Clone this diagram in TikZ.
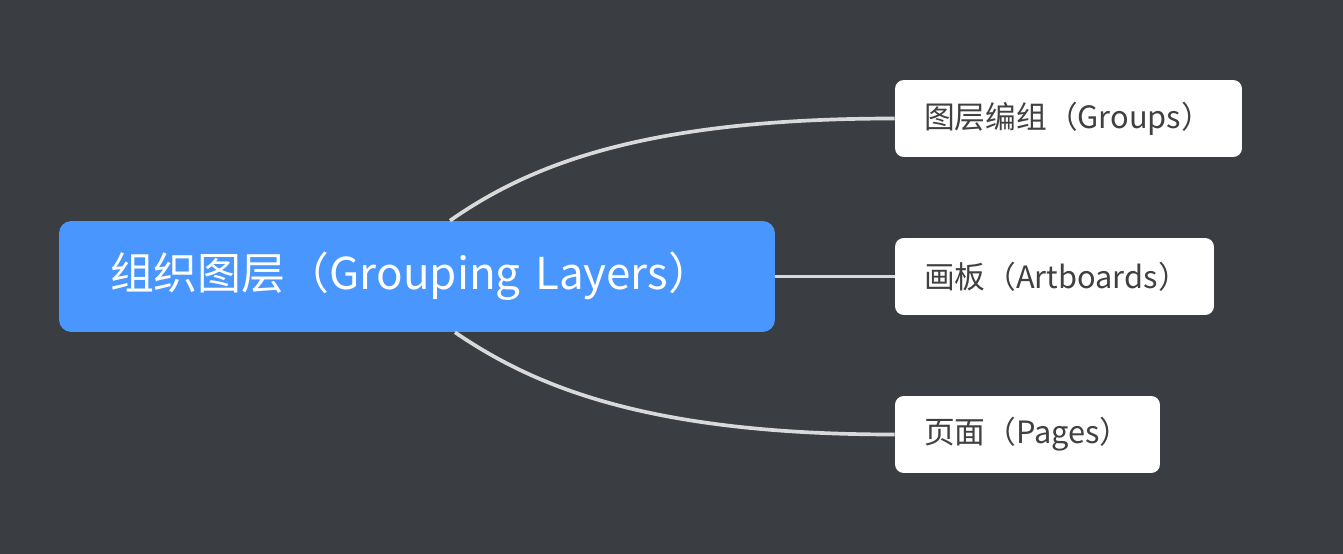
\documentclass[tikz,border=0pt]{standalone}
\usepackage{fontspec}
\setmainfont{Noto Sans CJK SC}
\begin{document}
\begin{tikzpicture}[x=0.02cm,y=-0.02cm,
  rootnode/.style={fill=rootcolor,text=white,rounded corners=7pt,minimum height=2.22cm,
    text width=12.28cm,inner xsep=1.02cm,align=left,font=\fontsize{25}{30}\selectfont},
  subnode/.style={fill=white,text=subtext,rounded corners=5pt,minimum height=1.54cm,
    inner xsep=0.58cm,align=left,font=\fontsize{17.5}{21}\selectfont},
  branch/.style={draw=linecolor,line width=2.1pt}]
  % Define colors
  \definecolor{bgcolor}{RGB}{58,61,66}
  \definecolor{rootcolor}{RGB}{74,150,255}
  \definecolor{linecolor}{RGB}{217,217,217}
  \definecolor{subtext}{RGB}{64,64,64}

  % Background
  \fill[bgcolor] (0,0) rectangle (1343,554);

  % Central topic
  \node[rootnode] (root) at (417,276.5) {\mbox{组织图层（Grouping Layers）}};

  % Subtopics
  \node[subnode,text width=5.78cm] (groups) at (1068.5,118.5) {\mbox{图层编组（Groups）}};
  \node[subnode,text width=5.22cm] (artboards) at (1054.5,276.5) {\mbox{画板（Artboards）}};
  \node[subnode,text width=4.14cm] (pages) at (1027.5,434.5) {\mbox{页面（Pages）}};

  % Branches
  \draw[branch] ([xshift=0.66cm]root.north) .. controls +(80,-56) and +(-250,0) .. (groups.west);
  \draw[branch] (root.east) -- (artboards.west);
  \draw[branch] ([xshift=0.76cm]root.south) .. controls +(78,53) and +(-250,0) .. (pages.west);

\end{tikzpicture}
\end{document}
